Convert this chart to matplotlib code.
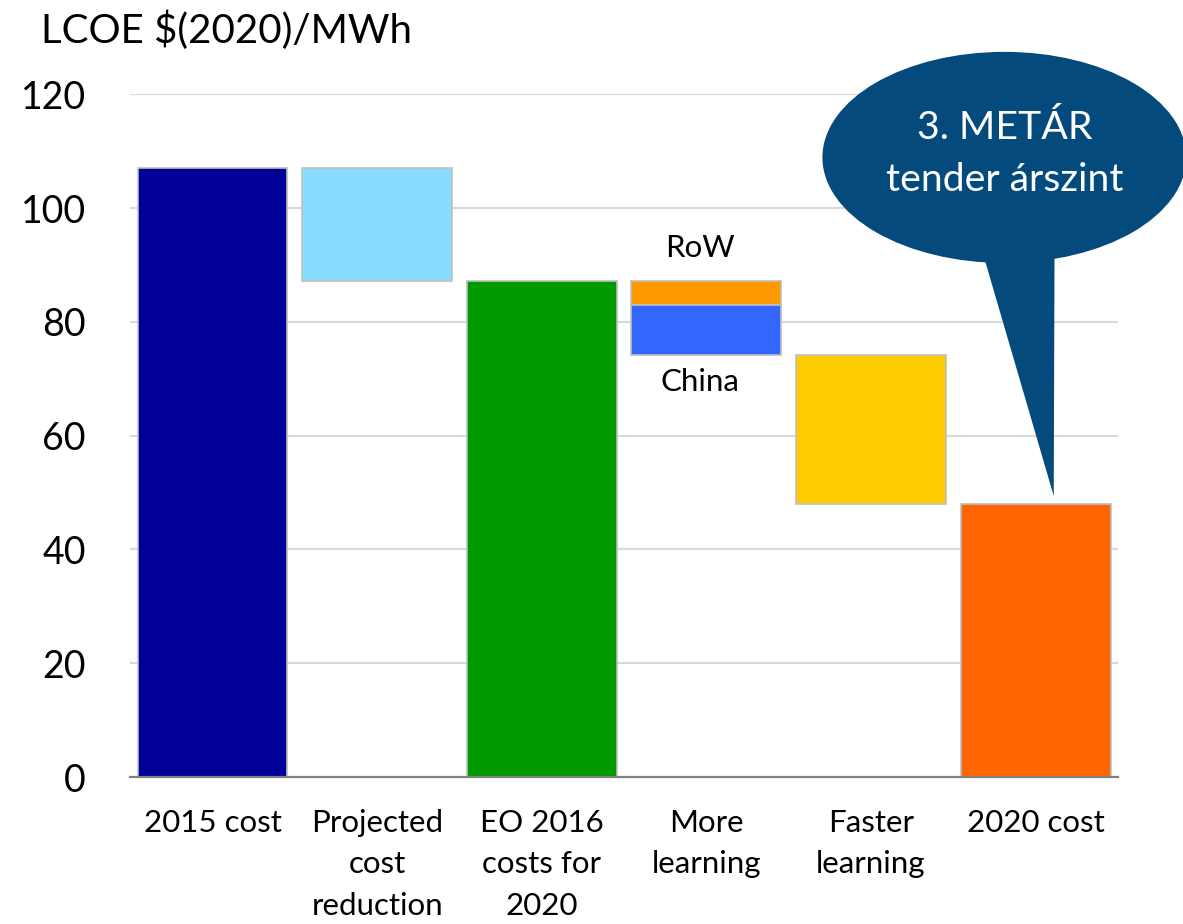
import numpy as np
import matplotlib.pyplot as plt
from matplotlib.patches import Ellipse, Polygon

plt.rcParams['font.family'] = ['Lato', 'DejaVu Sans']

# waterfall data, LCOE $(2020)/MWh
categories = ["2015 cost", "Projected\ncost\nreduction", "EO 2016\ncosts for\n2020",
              "More\nlearning", "Faster\nlearning", "2020 cost"]
start_cost = 107.0
projected_reduction = 19.8
row_learning = 4.2
china_learning = 8.8
faster_learning = 26.2
colors = ["#000099", "#88DDFF", "#009900", "#FF9900", "#3366FF", "#FFCC00", "#FF6600"]

eo_cost = start_cost - projected_reduction
after_row = eo_cost - row_learning
after_china = after_row - china_learning
end_cost = after_china - faster_learning

fig = plt.figure(figsize=(11.83, 9.24), dpi=100)
ax = fig.add_axes([0.110, 0.159, 0.835, 0.739])

x = np.arange(len(categories))
w = 0.91
edge = dict(edgecolor="#BFBFBF", linewidth=1.2, zorder=3)

ax.bar(x[0], start_cost, w, color=colors[0], **edge)
ax.bar(x[1], projected_reduction, w, bottom=eo_cost, color=colors[1], **edge)
ax.bar(x[2], eo_cost, w, color=colors[2], **edge)
ax.bar(x[3], row_learning, w, bottom=after_row, color=colors[3], **edge)
ax.bar(x[3], china_learning, w, bottom=after_china, color=colors[4], **edge)
ax.bar(x[4], faster_learning, w, bottom=end_cost, color=colors[5], **edge)
ax.bar(x[5], end_cost, w, color=colors[6], **edge)

ax.text(x[3] - 0.04, eo_cost + 5.8, "RoW", ha="center", va="center", fontsize=22.5)
ax.text(x[3] - 0.04, after_china - 4.8, "China", ha="center", va="center", fontsize=22.5)

ax.set_xlim(-0.5, len(categories) - 0.5)
ax.set_ylim(0, 120)
ax.set_yticks(np.arange(0, 121, 20))
ax.yaxis.grid(True, color="#D9D9D9", linewidth=1.5, zorder=0)
ax.set_axisbelow(True)
ax.tick_params(axis="y", length=0, pad=32, labelsize=27)
ax.tick_params(axis="x", length=0, pad=23, labelsize=22.5)
ax.set_xticks(x)
ax.set_xticklabels(categories, linespacing=1.58, va="top")
for s in ["left", "right", "top"]:
    ax.spines[s].set_visible(False)
ax.spines["bottom"].set_color("#7F7F7F")
ax.spines["bottom"].set_linewidth(1.6)
ax.spines["bottom"].set_zorder(4)

fig.text(0.035, 0.967, "LCOE $(2020)/MWh", fontsize=29, va="center", ha="left")

# speech bubble callout
bubble = "#044A7D"
ell = Ellipse((4.81, 108.9), 2.21, 37.1, facecolor=bubble, edgecolor="none",
              clip_on=False, zorder=5)
ax.add_patch(ell)
tail = Polygon([(4.66, 94.0), (5.115, 94.0), (5.11, 49.4)], closed=True,
               facecolor=bubble, edgecolor="none", clip_on=False, zorder=5)
ax.add_patch(tail)
ax.text(4.81, 112.05, "3. METÁR", color="white", fontsize=28.3,
        ha="center", va="baseline", zorder=6)
ax.text(4.81, 103.05, "tender árszint", color="white", fontsize=28.3,
        ha="center", va="baseline", zorder=6)

fig.savefig("out.png", dpi=100)
